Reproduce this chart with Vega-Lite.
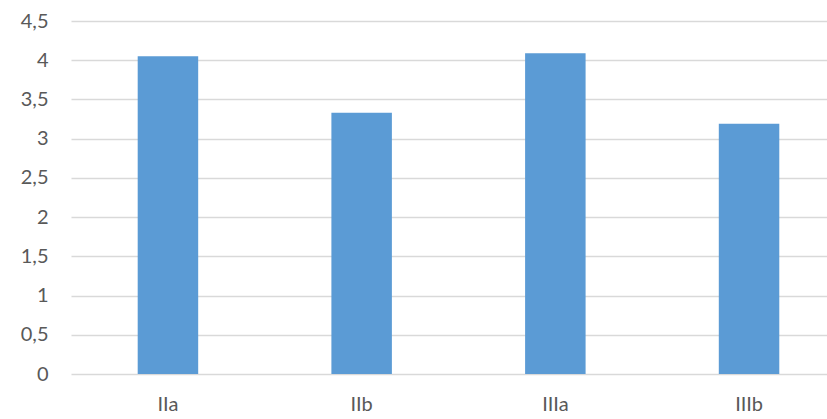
{
  "$schema": "https://vega.github.io/schema/vega-lite/v6.json",
  "width": 756,
  "height": 353,
  "autosize": {"type": "none"},
  "padding": {"left": 71, "top": 21, "right": 0, "bottom": 45},
  "background": "white",
  "data": {"values": [
    {"group": "IIa", "value": 4.05},
    {"group": "IIb", "value": 3.33},
    {"group": "IIIa", "value": 4.09},
    {"group": "IIIb", "value": 3.19}
  ]},
  "mark": {"type": "bar", "color": "#5B9BD5"},
  "encoding": {
    "x": {
      "field": "group", "type": "nominal", "sort": null,
      "scale": {"paddingInner": 0.6877, "paddingOuter": 0.2953, "align": 0.583},
      "axis": {"title": null, "labelAngle": 0, "domain": false, "ticks": false, "labelFont": "Lato", "labelFontSize": 20, "labelColor": "#595959", "labelPadding": 20}
    },
    "y": {
      "field": "value", "type": "quantitative",
      "scale": {"domain": [0, 4.5], "nice": false},
      "axis": {"title": null, "values": [0, 0.5, 1, 1.5, 2, 2.5, 3, 3.5, 4, 4.5], "labelExpr": "replace(toString(datum.value), '.', ',')", "domain": false, "ticks": false, "grid": true, "gridColor": "#D9D9D9", "gridWidth": 1.3, "labelFont": "Lato", "labelFontSize": 20, "labelColor": "#595959", "labelPadding": 23}
    }
  },
  "config": {"view": {"stroke": null}}
}
